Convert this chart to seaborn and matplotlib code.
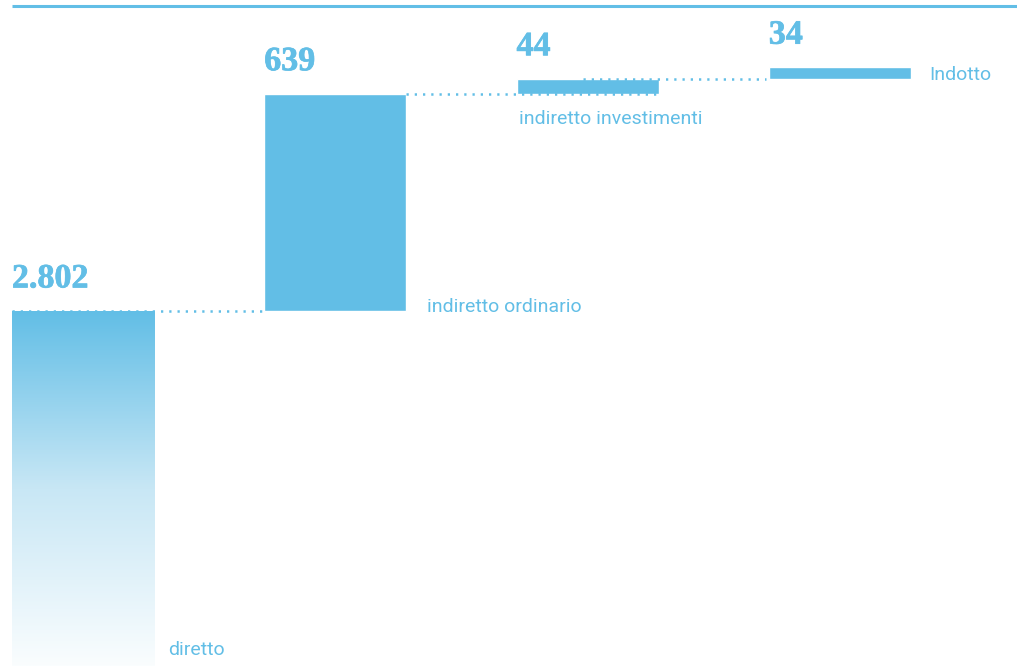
import numpy as np
import pandas as pd
import matplotlib
matplotlib.use("Agg")
import matplotlib.pyplot as plt
import matplotlib.patheffects as pe
import seaborn as sns

# Employment effect breakdown (waterfall)
categories = ["diretto", "indiretto ordinario", "indiretto investimenti", "Indotto"]
values = [2802, 639, 44, 34]

BLUE = "#62BEE6"

bottoms = list(np.concatenate([[0], np.cumsum(values)[:-1]]))
tops = [b + v for b, v in zip(bottoms, values)]
df = pd.DataFrame({"categoria": categories, "valore": values})

sns.set_theme(style="white")
plt.rcParams["font.family"] = ["Roboto", "DejaVu Sans"]

fig = plt.figure(figsize=(10.17, 6.66), dpi=100)
ax = fig.add_axes([0, 0, 1, 1])

W = 0.5635
sns.barplot(data=df, x="categoria", y="valore", bottom=bottoms, color=BLUE,
            saturation=1, width=W, ax=ax)

# Truncated value axis so the increments are readable
ax.set_xlim(-0.329, 3.702)
ax.set_ylim(1758, 3717)
ax.axis("off")

patches = ax.patches
ylo = ax.get_ylim()[0]

# Vertical fade on the first bar
p0 = patches[0]
p0.set_alpha(0)
x0, w0 = p0.get_x(), p0.get_width()
grad = np.linspace(0, 1, 256).reshape(-1, 1)
cmap = matplotlib.colors.LinearSegmentedColormap.from_list("fade", ["#FAFDFE", "#C8E7F5", BLUE])
ax.imshow(grad, cmap=cmap, aspect="auto", origin="lower",
          extent=[x0, x0 + w0, ylo, tops[0]], zorder=2)

# Dotted connectors between consecutive levels
def left(i):
    return patches[i].get_x()

def right(i):
    return patches[i].get_x() + patches[i].get_width()

def center(i):
    return patches[i].get_x() + patches[i].get_width() / 2

connectors = [
    (left(0), left(1) - 0.01, tops[0]),
    (right(1), right(2), tops[1]),
    (center(2) - 0.02, left(3) - 0.01, tops[2]),
]
for xa, xb, yv in connectors:
    ax.plot([xa, xb], [yv, yv], color=BLUE, lw=1.8, linestyle=(0, (0.9, 2.4)),
            dash_capstyle="butt", zorder=3)

# Rule across the top, from the first bar's left edge to the right border
x_rule = ax.transAxes.inverted().transform(ax.transData.transform((left(0), 0)))[0]
ax.plot([x_rule, 1.0], [0.991, 0.991], color=BLUE, lw=2.2, transform=ax.transAxes,
        solid_capstyle="butt", clip_on=False)

# Value labels above each bar
heavy = [pe.withStroke(linewidth=0.5, foreground=BLUE)]
for i, v in enumerate(values):
    txt = f"{v:,}".replace(",", ".")
    ax.annotate(txt, xy=(left(i), tops[i]), xytext=(0, 17), textcoords="offset points",
                ha="left", va="baseline", color=BLUE, fontsize=24.5,
                fontweight="bold", family="Liberation Serif", path_effects=heavy)

# Category labels
lab_kw = dict(color=BLUE, fontsize=14, textcoords="offset points", va="baseline")
ax.annotate(categories[0], xy=(right(0), ylo), xytext=(10, 8), ha="left", **lab_kw)
ax.annotate(categories[1], xy=(right(1), bottoms[1]), xytext=(15, -0.5), ha="left", **lab_kw)
ax.annotate(categories[2], xy=(left(2), bottoms[2]), xytext=(2, -22), ha="left", **lab_kw)
ax.annotate(categories[3], xy=(right(3), bottoms[3]), xytext=(13, -1), ha="left", **lab_kw)

fig.savefig("out.png", dpi=100, facecolor="white")
